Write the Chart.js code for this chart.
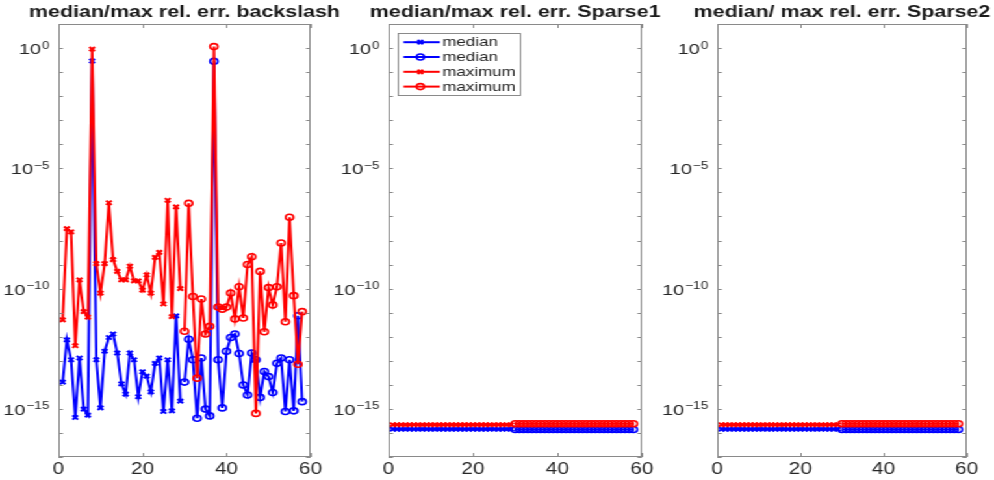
<!DOCTYPE html>
<html>
<head>
<meta charset="utf-8">
<script src="https://cdn.jsdelivr.net/npm/chart.js@4.4.0/dist/chart.umd.min.js"></script>
<style>
  html, body { margin: 0; padding: 0; background: #fff; overflow: hidden; }
  /* figure is laid out at 765px and widened to the 994px page */
  #figure { position: absolute; left: 0; top: 0; width: 765px; height: 480px;
            transform: scaleX(1.2994); transform-origin: 0 0; }
  #figure canvas { position: absolute; top: 0; }
</style>
</head>
<body>
<div id="figure">
  <!-- each canvas keeps equal margins either side of its plot so the title centres over it -->
  <canvas id="p1" width="284" height="480" style="left:0px"></canvas>
  <canvas id="p2" width="287" height="480" style="left:253px"></canvas>
  <canvas id="p3" width="284" height="480" style="left:506px"></canvas>
</div>
<script>
// test problem numbers
const runsA = [1, 2, 3, 4, 5, 6, 7, 8, 9, 10, 11, 12, 13, 14, 15, 16, 17, 18, 19, 20, 21, 22, 23, 24, 25, 26, 27, 28, 29];
const runsB = [30, 31, 32, 33, 34, 35, 36, 37, 38, 39, 40, 41, 42, 43, 44, 45, 46, 47, 48, 49, 50, 51, 52, 53, 54, 55, 56, 57, 58];

// backslash
const bsMedianA = [1.3e-14, 7.4e-13, 1.1e-13, 4.4e-16, 1.3e-13, 9.8e-16, 5.5e-16, 0.29, 1.1e-13, 1.1e-15, 2.5e-13, 9.3e-13, 1.3e-12, 2.1e-13, 1.1e-14, 4.1e-15, 2.1e-13, 1.1e-13, 3.2e-15, 3.5e-14, 2.3e-14, 5.1e-15, 7.8e-14, 1.3e-13, 7.8e-16, 1.1e-13, 8.3e-16, 7.4e-12, 2.1e-15];
const bsMedianB = [1.3e-14, 7.9e-13, 1.1e-13, 4.1e-16, 1.3e-13, 9.8e-16, 5.1e-16, 0.28, 1.1e-13, 1.1e-15, 2.5e-13, 9.3e-13, 1.3e-12, 2.0e-13, 9.8e-15, 3.8e-15, 2.1e-13, 1.1e-13, 3.0e-15, 3.6e-14, 2.2e-14, 4.8e-15, 7.8e-14, 1.3e-13, 7.8e-16, 1.1e-13, 8.3e-16, 7.4e-12, 2.0e-15];
const bsMaxA = [5.0e-12, 3.1e-8, 2.3e-8, 4.2e-13, 2.3e-10, 1.1e-11, 6.5e-12, 0.91, 1.1e-9, 6.5e-11, 1.1e-9, 3.7e-7, 1.6e-9, 5.2e-10, 2.3e-10, 2.3e-10, 8.5e-10, 2.1e-10, 2.1e-10, 8.7e-11, 3.7e-10, 6.5e-11, 2.0e-9, 3.2e-9, 2.3e-11, 4.7e-7, 6.8e-12, 2.5e-7, 1.0e-10];
const bsMaxB = [1.7e-12, 3.5e-7, 4.7e-11, 1.9e-14, 3.7e-11, 1.3e-12, 2.7e-12, 1.15, 1.7e-11, 1.4e-11, 1.7e-11, 6.5e-11, 5.5e-12, 1.2e-10, 6.0e-12, 1.0e-9, 2.1e-9, 6.5e-16, 5.2e-10, 1.6e-12, 1.1e-10, 2.1e-11, 1.2e-10, 7.9e-9, 4.2e-12, 9.3e-8, 5.1e-11, 7.2e-14, 1.1e-11];

// Sparse1
const sp1MedianA = [1.45e-16, 1.45e-16, 1.45e-16, 1.45e-16, 1.45e-16, 1.45e-16, 1.45e-16, 1.45e-16, 1.45e-16, 1.45e-16, 1.45e-16, 1.45e-16, 1.45e-16, 1.45e-16, 1.45e-16, 1.45e-16, 1.45e-16, 1.45e-16, 1.45e-16, 1.45e-16, 1.45e-16, 1.45e-16, 1.45e-16, 1.45e-16, 1.45e-16, 1.45e-16, 1.45e-16, 1.45e-16, 1.45e-16];
const sp1MedianB = [1.4e-16, 1.4e-16, 1.4e-16, 1.4e-16, 1.4e-16, 1.4e-16, 1.4e-16, 1.4e-16, 1.4e-16, 1.4e-16, 1.4e-16, 1.4e-16, 1.4e-16, 1.4e-16, 1.4e-16, 1.4e-16, 1.4e-16, 1.4e-16, 1.4e-16, 1.4e-16, 1.4e-16, 1.4e-16, 1.4e-16, 1.4e-16, 1.4e-16, 1.4e-16, 1.4e-16, 1.4e-16, 1.4e-16];
const sp1MaxA = [2.2e-16, 2.2e-16, 2.2e-16, 2.2e-16, 2.2e-16, 2.2e-16, 2.2e-16, 2.2e-16, 2.2e-16, 2.2e-16, 2.2e-16, 2.2e-16, 2.2e-16, 2.2e-16, 2.2e-16, 2.2e-16, 2.2e-16, 2.2e-16, 2.2e-16, 2.2e-16, 2.2e-16, 2.2e-16, 2.2e-16, 2.2e-16, 2.2e-16, 2.2e-16, 2.2e-16, 2.2e-16, 2.2e-16];
const sp1MaxB = [2.4e-16, 2.4e-16, 2.4e-16, 2.4e-16, 2.4e-16, 2.4e-16, 2.4e-16, 2.4e-16, 2.4e-16, 2.4e-16, 2.4e-16, 2.4e-16, 2.4e-16, 2.4e-16, 2.4e-16, 2.4e-16, 2.4e-16, 2.4e-16, 2.4e-16, 2.4e-16, 2.4e-16, 2.4e-16, 2.4e-16, 2.4e-16, 2.4e-16, 2.4e-16, 2.4e-16, 2.4e-16, 2.4e-16];

// Sparse2
const sp2MedianA = [1.45e-16, 1.45e-16, 1.45e-16, 1.45e-16, 1.45e-16, 1.45e-16, 1.45e-16, 1.45e-16, 1.45e-16, 1.45e-16, 1.45e-16, 1.45e-16, 1.45e-16, 1.45e-16, 1.45e-16, 1.45e-16, 1.45e-16, 1.45e-16, 1.45e-16, 1.45e-16, 1.45e-16, 1.45e-16, 1.45e-16, 1.45e-16, 1.45e-16, 1.45e-16, 1.45e-16, 1.45e-16, 1.45e-16];
const sp2MedianB = [1.4e-16, 1.4e-16, 1.4e-16, 1.4e-16, 1.4e-16, 1.4e-16, 1.4e-16, 1.4e-16, 1.4e-16, 1.4e-16, 1.4e-16, 1.4e-16, 1.4e-16, 1.4e-16, 1.4e-16, 1.4e-16, 1.4e-16, 1.4e-16, 1.4e-16, 1.4e-16, 1.4e-16, 1.4e-16, 1.4e-16, 1.4e-16, 1.4e-16, 1.4e-16, 1.4e-16, 1.4e-16, 1.4e-16];
const sp2MaxA = [2.2e-16, 2.2e-16, 2.2e-16, 2.2e-16, 2.2e-16, 2.2e-16, 2.2e-16, 2.2e-16, 2.2e-16, 2.2e-16, 2.2e-16, 2.2e-16, 2.2e-16, 2.2e-16, 2.2e-16, 2.2e-16, 2.2e-16, 2.2e-16, 2.2e-16, 2.2e-16, 2.2e-16, 2.2e-16, 2.2e-16, 2.2e-16, 2.2e-16, 2.2e-16, 2.2e-16, 2.2e-16, 2.2e-16];
const sp2MaxB = [2.4e-16, 2.4e-16, 2.4e-16, 2.4e-16, 2.4e-16, 2.4e-16, 2.4e-16, 2.4e-16, 2.4e-16, 2.4e-16, 2.4e-16, 2.4e-16, 2.4e-16, 2.4e-16, 2.4e-16, 2.4e-16, 2.4e-16, 2.4e-16, 2.4e-16, 2.4e-16, 2.4e-16, 2.4e-16, 2.4e-16, 2.4e-16, 2.4e-16, 2.4e-16, 2.4e-16, 2.4e-16, 2.4e-16];

const xTicks = [0, 20, 40, 60];
const yDecades = [-17, -16, -15, -14, -13, -12, -11, -10, -9, -8, -7, -6, -5, -4, -3, -2, -1, 0, 1];
const yLabelled = [0, -5, -10, -15];

const FONT = '"Liberation Sans", Arial, Helvetica, sans-serif';
const BLUE = "#0000ff";
const RED = "#ff0000";
const AXIS = "#8a8a8a";
const TEXT = "#262626";

function series(label, xs, ys, color, marker, order) {
  return {
    label: label,
    data: xs.map((x, i) => ({ x: x, y: ys[i] })),
    borderColor: color,
    backgroundColor: color,
    borderWidth: 2,
    pointStyle: marker,
    pointRadius: 3,
    pointBorderWidth: marker === "circle" ? 1.6 : 2,
    pointBackgroundColor: "rgba(0,0,0,0)",
    tension: 0,
    order: order,
  };
}

// box round the plot area, inward tick marks on all four sides,
// and the 10^n labels with a raised exponent
const boxAxes = {
  id: "boxAxes",
  afterDraw(chart) {
    const { ctx, chartArea: a, scales } = chart;
    ctx.save();
    ctx.strokeStyle = AXIS;
    ctx.lineWidth = 1;
    ctx.beginPath();
    scales.y.ticks.forEach((t) => {
      const py = Math.round(scales.y.getPixelForValue(t.value)) + 0.5;
      ctx.moveTo(a.left, py);
      ctx.lineTo(a.left + 3.5, py);
      ctx.moveTo(a.right, py);
      ctx.lineTo(a.right - 3.5, py);
    });
    scales.x.ticks.forEach((t) => {
      const px = Math.round(scales.x.getPixelForValue(t.value)) + 0.5;
      ctx.moveTo(px, a.top);
      ctx.lineTo(px, a.top + 4);
      ctx.moveTo(px, a.bottom);
      ctx.lineTo(px, a.bottom - 4);
    });
    ctx.stroke();
    ctx.strokeRect(Math.round(a.left) + 0.5, Math.round(a.top) + 0.5,
      Math.round(a.right - a.left) - 1, Math.round(a.bottom - a.top) - 1);

    ctx.fillStyle = TEXT;
    ctx.textAlign = "right";
    ctx.textBaseline = "alphabetic";
    scales.y.ticks.forEach((t) => {
      const e = Math.round(Math.log10(t.value));
      if (!yLabelled.includes(e)) return;
      const py = scales.y.getPixelForValue(t.value);
      const right = a.left - 7;
      ctx.font = "10.5px " + FONT;
      const exp = String(e).replace("-", "\u2212");
      ctx.fillText(exp, right, py + 0.5);
      const ew = ctx.measureText(exp).width;
      ctx.font = "15.5px " + FONT;
      ctx.fillText("10", right - ew - 0.5, py + 6);
    });
    ctx.restore();
  },
};

// legend box drawn inside the plot area, top left
const innerLegend = {
  id: "innerLegend",
  afterDraw(chart, args, opts) {
    if (!opts.show) return;
    const { ctx, chartArea: a } = chart;
    const left = Math.round(a.left + 7) + 0.5;
    const top = Math.round(a.top + 9) + 0.5;
    const w = 94, h = 62, rowH = 14.8;
    ctx.save();
    ctx.fillStyle = "#fff";
    ctx.fillRect(left, top, w, h);
    ctx.strokeStyle = AXIS;
    ctx.lineWidth = 1;
    ctx.strokeRect(left, top, w, h);
    ctx.font = "13px " + FONT;
    ctx.textBaseline = "middle";
    chart.data.datasets.forEach((ds, i) => {
      const cy = top + 8.7 + i * rowH;
      const mx = left + 17;
      ctx.strokeStyle = ds.borderColor;
      ctx.lineWidth = 2;
      ctx.beginPath();
      ctx.moveTo(left + 4, cy);
      ctx.lineTo(left + 32, cy);
      ctx.stroke();
      ctx.beginPath();
      if (ds.pointStyle === "circle") {
        ctx.lineWidth = ds.pointBorderWidth;
        ctx.arc(mx, cy, 3, 0, Math.PI * 2);
      } else {
        const d = 3 * Math.SQRT1_2;
        ctx.moveTo(mx - d, cy - d);
        ctx.lineTo(mx + d, cy + d);
        ctx.moveTo(mx - d, cy + d);
        ctx.lineTo(mx + d, cy - d);
      }
      ctx.stroke();
      ctx.fillStyle = TEXT;
      ctx.fillText(ds.label, left + 34, cy + 0.5);
    });
    ctx.restore();
  },
};

function makePanel(id, title, axisWidth, medA, medB, maxA, maxB, withLegend) {
  return new Chart(document.getElementById(id), {
    type: "line",
    data: {
      datasets: [
        series("median", runsA, medA, BLUE, "crossRot", 1),
        series("median", runsB, medB, BLUE, "circle", 1),
        series("maximum", runsA, maxA, RED, "crossRot", 0),
        series("maximum", runsB, maxB, RED, "circle", 0),
      ],
    },
    options: {
      responsive: false,
      animation: false,
      events: [],
      layout: { padding: 0 },
      plugins: {
        legend: { display: false },
        tooltip: { enabled: false },
        title: {
          display: true,
          text: title,
          color: "#1a1a1a",
          font: { family: FONT, size: 16.5, weight: "bold", lineHeight: 1.2 },
          padding: { top: 2.5, bottom: 1.7 },
        },
        innerLegend: { show: withLegend },
      },
      scales: {
        x: {
          type: "linear",
          min: 0,
          max: 60,
          grid: { display: false, drawTicks: false },
          border: { display: false },
          ticks: { color: TEXT, padding: 3, font: { family: FONT, size: 16 } },
          afterBuildTicks: (s) => {
            s.ticks = xTicks.map((v) => ({ value: v }));
          },
          afterFit: (s) => {
            s.height = 23;
          },
        },
        y: {
          type: "logarithmic",
          min: 1e-17,
          max: 10,
          grid: { display: false, drawTicks: false },
          border: { display: false },
          ticks: { display: false },
          afterBuildTicks: (s) => {
            s.ticks = yDecades.map((e) => ({ value: Math.pow(10, e) }));
          },
          afterFit: (s) => {
            s.width = axisWidth;
          },
        },
        // empty right-hand margin as wide as the label column
        yRight: {
          position: "right",
          grid: { display: false, drawTicks: false },
          border: { display: false },
          ticks: { display: false },
          afterFit: (s) => {
            s.width = axisWidth;
          },
        },
      },
    },
    plugins: [boxAxes, innerLegend],
  });
}

makePanel("p1", "median/max rel. err. backslash", 45, bsMedianA, bsMedianB, bsMaxA, bsMaxB, false);
makePanel("p2", "median/max rel. err. Sparse1", 46, sp1MedianA, sp1MedianB, sp1MaxA, sp1MaxB, true);
makePanel("p3", "median/ max rel. err. Sparse2", 46, sp2MedianA, sp2MedianB, sp2MaxA, sp2MaxB, false);
</script>
</body>
</html>
